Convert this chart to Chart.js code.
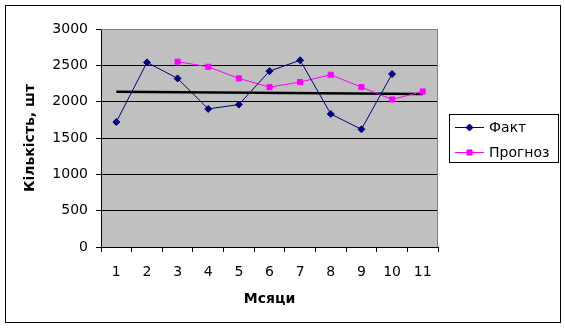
<!DOCTYPE html>
<html>
<head>
<meta charset="utf-8">
<script src="https://cdn.jsdelivr.net/npm/chart.js"></script>
<style>
  body { margin: 0; background: #fff; }
  #wrap { width: 565px; height: 328px; }
</style>
</head>
<body>
<div id="wrap"><canvas id="chart" width="565" height="328"></canvas></div>
<script>
// values
const months = ["1", "2", "3", "4", "5", "6", "7", "8", "9", "10", "11"];
const fact = [1720, 2540, 2320, 1900, 1960, 2420, 2570, 1830, 1620, 2380, null];
const forecast = [null, null, 2550, 2480, 2320, 2200, 2270, 2370, 2200, 2030, 2140];
const trend = [2135, null, null, null, null, null, null, null, null, null, 2105];
const yTicks = [0, 500, 1000, 1500, 2000, 2500, 3000];

const FONT = "DejaVu Sans";

// grey plot area + frames
const backdrop = {
    id: "backdrop",
    beforeDraw(chart) {
        let ctx = chart.ctx;
        let a = chart.chartArea;
        ctx.save();
        ctx.fillStyle = "#fff";
        ctx.fillRect(0, 0, chart.width, chart.height);
        ctx.fillStyle = "#c0c0c0";
        ctx.fillRect(a.left, a.top, a.right - a.left, a.bottom - a.top);
        ctx.restore();
    },
    afterDraw(chart) {
        let ctx = chart.ctx;
        let a = chart.chartArea;
        ctx.save();
        ctx.strokeStyle = "#808080";
        ctx.lineWidth = 1;
        ctx.beginPath();
        ctx.moveTo(a.left, a.top + 0.5);
        ctx.lineTo(a.right - 0.5, a.top + 0.5);
        ctx.lineTo(a.right - 0.5, a.bottom);
        ctx.stroke();
        ctx.strokeStyle = "#000";
        ctx.strokeRect(5.5, 5.5, 555, 317);
        ctx.restore();
    }
};

// legend box on the right, entries = datasets that have a label
const sideLegend = {
    id: "sideLegend",
    afterDraw(chart) {
        let ctx = chart.ctx;
        let box = {x: 449.5, y: 114.5, w: 109, h: 48};
        ctx.save();
        ctx.strokeStyle = "#000";
        ctx.lineWidth = 1;
        ctx.strokeRect(box.x, box.y, box.w, box.h);
        ctx.font = "14px '" + FONT + "'";
        ctx.textBaseline = "middle";
        ctx.fillStyle = "#000";
        let row = 0;
        chart.data.datasets.forEach(function(ds) {
            if (!ds.label) return;
            let cy = 127 + row * 25;
            ctx.strokeStyle = ds.borderColor;
            ctx.lineWidth = 1;
            ctx.beginPath();
            ctx.moveTo(455, cy + 0.5);
            ctx.lineTo(484, cy + 0.5);
            ctx.stroke();
            ctx.fillStyle = ds.pointBackgroundColor;
            ctx.strokeStyle = ds.pointBorderColor;
            Chart.helpers.drawPoint(ctx, {
                pointStyle: ds.pointStyle,
                radius: ds.pointRadius,
                borderWidth: ds.pointBorderWidth,
                rotation: 0
            }, 469.5, cy + 0.5);
            ctx.fillStyle = "#000";
            ctx.fillText(ds.label, 489, cy + 1);
            row++;
        });
        ctx.restore();
    }
};

new Chart(document.getElementById("chart"), {
    type: "line",
    data: {
        labels: months,
        datasets: [{
            label: "Факт",
            data: fact,
            borderColor: "#000080",
            borderWidth: 1,
            pointStyle: "rectRot",
            pointRadius: 3.5,
            pointBorderWidth: 1,
            pointBackgroundColor: "#000080",
            pointBorderColor: "#000080",
            tension: 0
        }, {
            label: "Прогноз",
            data: forecast,
            borderColor: "#ff00ff",
            borderWidth: 1,
            pointStyle: "rect",
            pointRadius: 3.6,
            pointBorderWidth: 1,
            pointBackgroundColor: "#ff00ff",
            pointBorderColor: "#ff00ff",
            tension: 0
        }, {
            label: "",
            data: trend,
            borderColor: "#000",
            borderWidth: 2.5,
            pointRadius: 0,
            spanGaps: true,
            tension: 0
        }]
    },
    options: {
        responsive: false,
        animation: false,
        layout: {
            padding: {left: 5, top: 29, right: 127, bottom: 5}
        },
        plugins: {
            legend: {display: false},
            tooltip: {enabled: false}
        },
        scales: {
            x: {
                offset: true,
                afterFit: function(scale) { scale.height = 76; },
                grid: {
                    offset: true,
                    drawOnChartArea: false,
                    drawTicks: true,
                    tickLength: 5,
                    color: "#000",
                    tickColor: "#000"
                },
                border: {color: "#000", width: 1},
                ticks: {
                    color: "#000",
                    padding: 12,
                    maxRotation: 0,
                    font: {family: FONT, size: 14}
                },
                title: {
                    display: true,
                    text: "Мсяци",
                    color: "#000",
                    font: {family: FONT, size: 14, weight: "bold"},
                    padding: {top: 0, bottom: 15}
                }
            },
            y: {
                min: 0,
                max: 3000,
                afterFit: function(scale) { scale.width = 96; },
                afterBuildTicks: function(scale) {
                    scale.ticks = yTicks.map(function(v) { return {value: v}; });
                },
                grid: {
                    color: function(c) { return c.tick && c.tick.value === 3000 ? "#808080" : "#000"; },
                    tickColor: "#000",
                    tickLength: 5,
                    lineWidth: 1
                },
                border: {color: "#000", width: 1},
                ticks: {
                    color: "#000",
                    padding: 8,
                    font: {family: FONT, size: 14},
                    callback: function(v) { return String(v); }
                },
                title: {
                    display: true,
                    text: "Кількість, шт",
                    color: "#000",
                    font: {family: FONT, size: 14, weight: "bold"},
                    padding: {top: 17, bottom: 0}
                }
            }
        }
    },
    plugins: [backdrop, sideLegend]
});
</script>
</body>
</html>
